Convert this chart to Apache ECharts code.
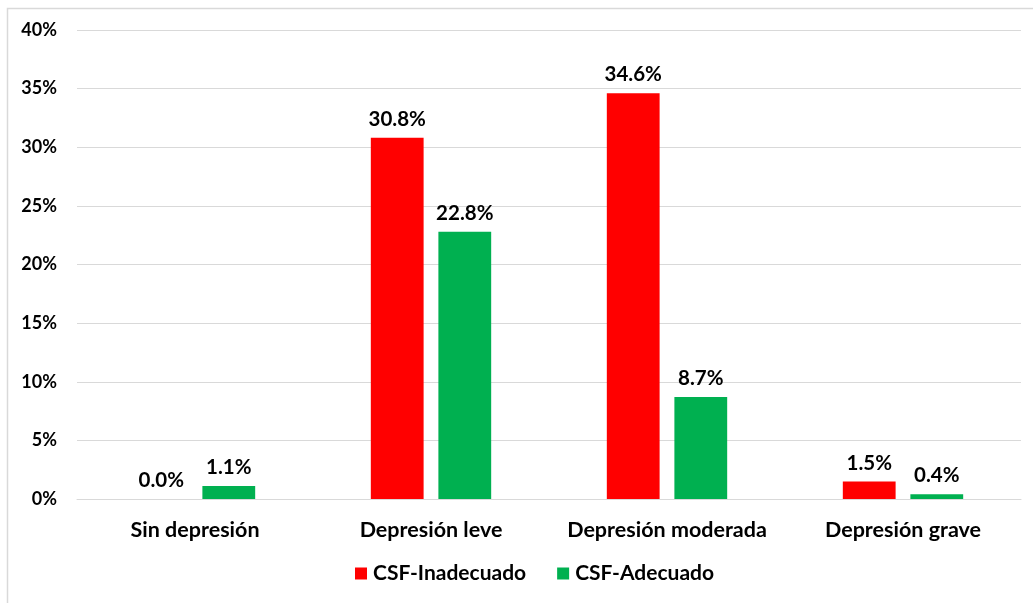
<!DOCTYPE html>
<html><head><meta charset="utf-8">
<script src="https://cdn.jsdelivr.net/npm/echarts@6/dist/echarts.min.js"></script>
<style>html,body{margin:0;padding:0;background:#fff}#c{width:1033px;height:603px}</style>
</head><body><div id="c"></div>
<script>
const categories = ["Sin depresión", "Depresión leve", "Depresión moderada", "Depresión grave"];
const inadecuado = [0.0, 30.8, 34.6, 1.5];
const adecuado = [1.1, 22.8, 8.7, 0.4];
const seriesNames = ["CSF-Inadecuado", "CSF-Adecuado"];
const yTicks = [0, 5, 10, 15, 20, 25, 30, 35, 40];

const font = "Lato, 'Open Sans', sans-serif";
const chart = echarts.init(document.getElementById('c'));
const lbl = {show: true, position: 'top', distance: 8, formatter: p => p.value.toFixed(1) + '%',
  fontFamily: font, fontWeight: 'bold', fontSize: 20.5, color: '#000'};
chart.setOption({
  animation: false,
  graphic: [{type: 'rect', shape: {x: 7.5, y: 8.5, width: 1040, height: 600},
    style: {fill: 'none', stroke: '#d9d9d9', lineWidth: 1.5}, z: -1}],
  grid: {left: 77, right: 12, top: 30, bottom: 104, containLabel: false},
  legend: {bottom: 14, left: 350, itemWidth: 12, itemHeight: 12, itemGap: 31,
    icon: 'rect', textStyle: {fontFamily: font, fontWeight: 'bold', fontSize: 21, color: '#000', padding: [0, 0, 0, 1]},
    data: seriesNames},
  xAxis: {type: 'category', data: categories,
    axisLine: {lineStyle: {color: '#d9d9d9'}}, axisTick: {show: false},
    axisLabel: {interval: 0, hideOverlap: false, fontFamily: font, fontWeight: 'bold', fontSize: 21.5, color: '#000', margin: 20}},
  yAxis: {type: 'value', min: yTicks[0], max: yTicks[yTicks.length - 1], interval: 5,
    axisLine: {show: false}, axisTick: {show: false},
    splitLine: {lineStyle: {color: '#d9d9d9'}},
    axisLabel: {formatter: '{value}%', fontFamily: font, fontWeight: 'bold', fontSize: 18, color: '#000', margin: 20}},
  series: [
    {name: seriesNames[0], type: 'bar', data: inadecuado, itemStyle: {color: '#FF0000'},
      barGap: '28%', barCategoryGap: '49%', label: lbl},
    {name: seriesNames[1], type: 'bar', data: adecuado, itemStyle: {color: '#00B050'},
      barGap: '28%', barCategoryGap: '49%', label: lbl}
  ]
});
</script></body></html>
